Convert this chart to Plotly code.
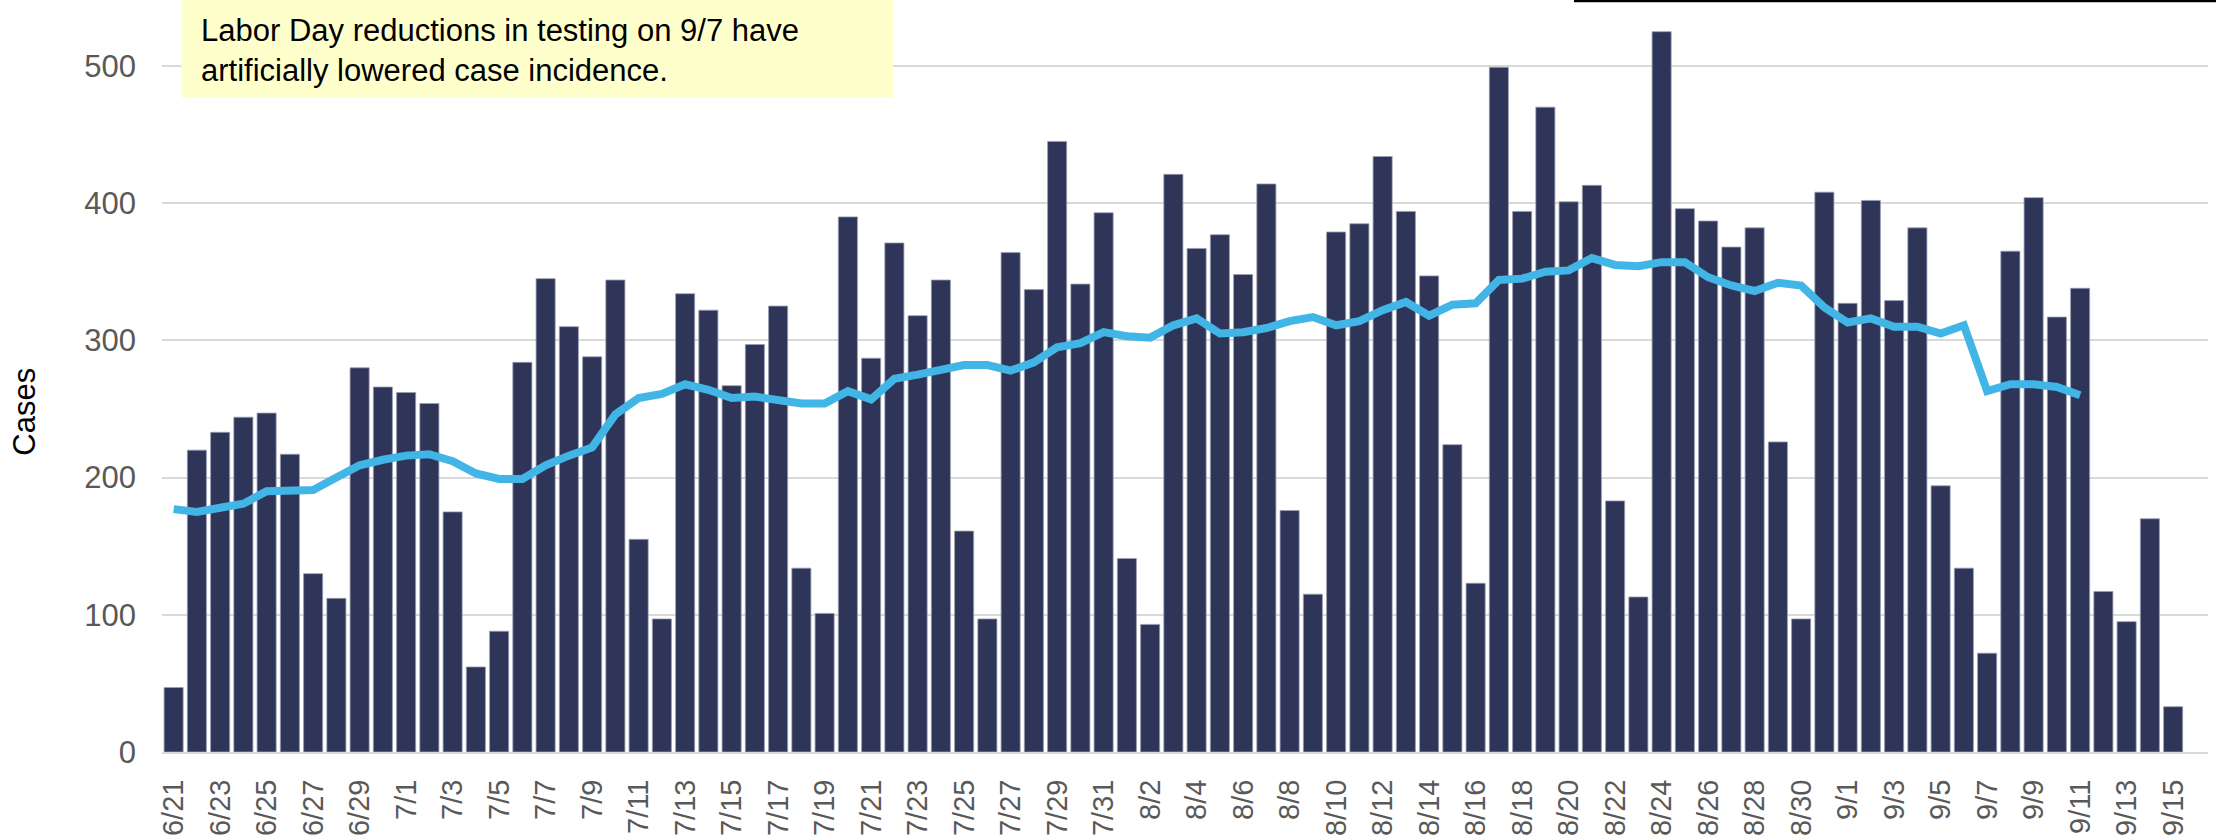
import plotly.graph_objects as go

# Dates (6/21 .. 9/15)
dates = ([f"6/{d}" for d in range(21, 31)] + [f"7/{d}" for d in range(1, 32)]
         + [f"8/{d}" for d in range(1, 32)] + [f"9/{d}" for d in range(1, 16)])

daily_cases = [47, 220, 233, 244, 247, 217, 130, 112, 280, 266,
               262, 254, 175, 62, 88, 284, 345, 310, 288, 344,
               155, 97, 334, 322, 267, 297, 325, 134, 101, 390,
               287, 371, 318, 344, 161, 97, 364, 337, 445, 341,
               393,
               141, 93, 421, 367, 377, 348, 414, 176, 115, 379,
               385, 434, 394, 347, 224, 123, 499, 394, 470, 401,
               413, 183, 113, 525, 396, 387, 368, 382, 226, 97,
               408,
               327, 402, 329, 382, 194, 134, 72, 365, 404, 317,
               338, 117, 95, 170, 33]

avg_cases = [177, 175, 178, 181, 190, 190, 191, 200, 209, 213,
             216, 217, 212, 203, 199, 199, 209, 216, 222, 246,
             258, 261, 268, 264, 258, 259, 257, 254, 254, 263,
             257, 272, 275, 278, 282, 282, 278, 284, 295, 298,
             306,
             303, 302, 311, 316, 305, 306, 309, 314, 317, 311,
             314, 322, 328, 318, 326, 327, 344, 345, 350, 351,
             360, 355, 354, 357, 357, 346, 340, 336, 342, 340,
             324,
             313, 316, 310, 310, 305, 311, 263, 268, 268, 266, 260]
avg_cases = avg_cases + [None] * (len(dates) - len(avg_cases))

y_ticks = [0, 100, 200, 300, 400, 500]
note_lines = ["Labor Day reductions in testing on 9/7 have",
              "artificially lowered case incidence."]
y_title = "Cases"

FONT = "Arial, 'Liberation Sans', sans-serif"

fig = go.Figure()
fig.add_trace(go.Bar(x=dates, y=daily_cases,
                     marker=dict(color="#2E3558", line=dict(width=0.8, color="#9a9db0")),
                     name="Daily cases"))
fig.add_trace(go.Scatter(x=dates, y=avg_cases, mode="lines",
                         line=dict(color="#41B6E6", width=8), name="7-day average",
                         connectgaps=False))

# plot area in pixels: left 162, right 2208, top 20, bottom 752.5
W, H = 2216, 838
L, R, T, B = 162, 8, 20, 85.5
pw = W - L - R
ph = H - T - B

def px(x):
    return (x - L) / pw

def py(y):
    return (H - B - y) / ph

fig.update_layout(
    width=W, height=H,
    margin=dict(l=L, r=R, t=T, b=B, pad=0),
    plot_bgcolor="white", paper_bgcolor="white",
    bargap=0.18,
    showlegend=False,
    font=dict(family=FONT, color="#595959"),
    xaxis=dict(type="category", categoryorder="array", categoryarray=dates,
               range=[-0.5, len(dates) + 0.5], automargin=False,
               tickmode="array", tickvals=dates[::2], ticktext=dates[::2],
               tickangle=-90, tickfont=dict(size=29, color="#595959"),
               showgrid=False, showline=True, linecolor="#d9d9d9", linewidth=2,
               ticks="", ticklabelstandoff=14),
    yaxis=dict(range=[0, 533.5], tickvals=y_ticks, automargin=False,
               tickfont=dict(size=31, color="#595959"),
               showgrid=True, gridcolor="#d9d9d9", gridwidth=2,
               zeroline=False, showline=False, ticks="", ticklabelstandoff=25),
)

# yellow note box
fig.add_shape(type="rect", xref="paper", yref="paper",
              x0=px(181), x1=px(893), y0=py(97.5), y1=py(-2),
              fillcolor="#FFFFCC", line=dict(width=0), layer="above")
fig.add_annotation(xref="paper", yref="paper", x=px(199), y=py(51),
                   xanchor="left", yanchor="middle", align="left",
                   text="<br>".join(note_lines), showarrow=False,
                   font=dict(size=31, color="black", family=FONT))

# top-right black rule
fig.add_shape(type="line", xref="paper", yref="paper",
              x0=px(1574), x1=px(2220), y0=py(1), y1=py(1),
              line=dict(color="black", width=2.5))

# y-axis title
fig.add_annotation(xref="paper", yref="paper", x=px(25), y=py(412),
                   xanchor="center", yanchor="middle", textangle=-90,
                   text=y_title, showarrow=False,
                   font=dict(size=31, color="black", family=FONT))

fig.write_html("out.html", config={"displayModeBar": False},
               post_script="document.body.style.margin='0px';document.body.style.overflow='hidden';")
